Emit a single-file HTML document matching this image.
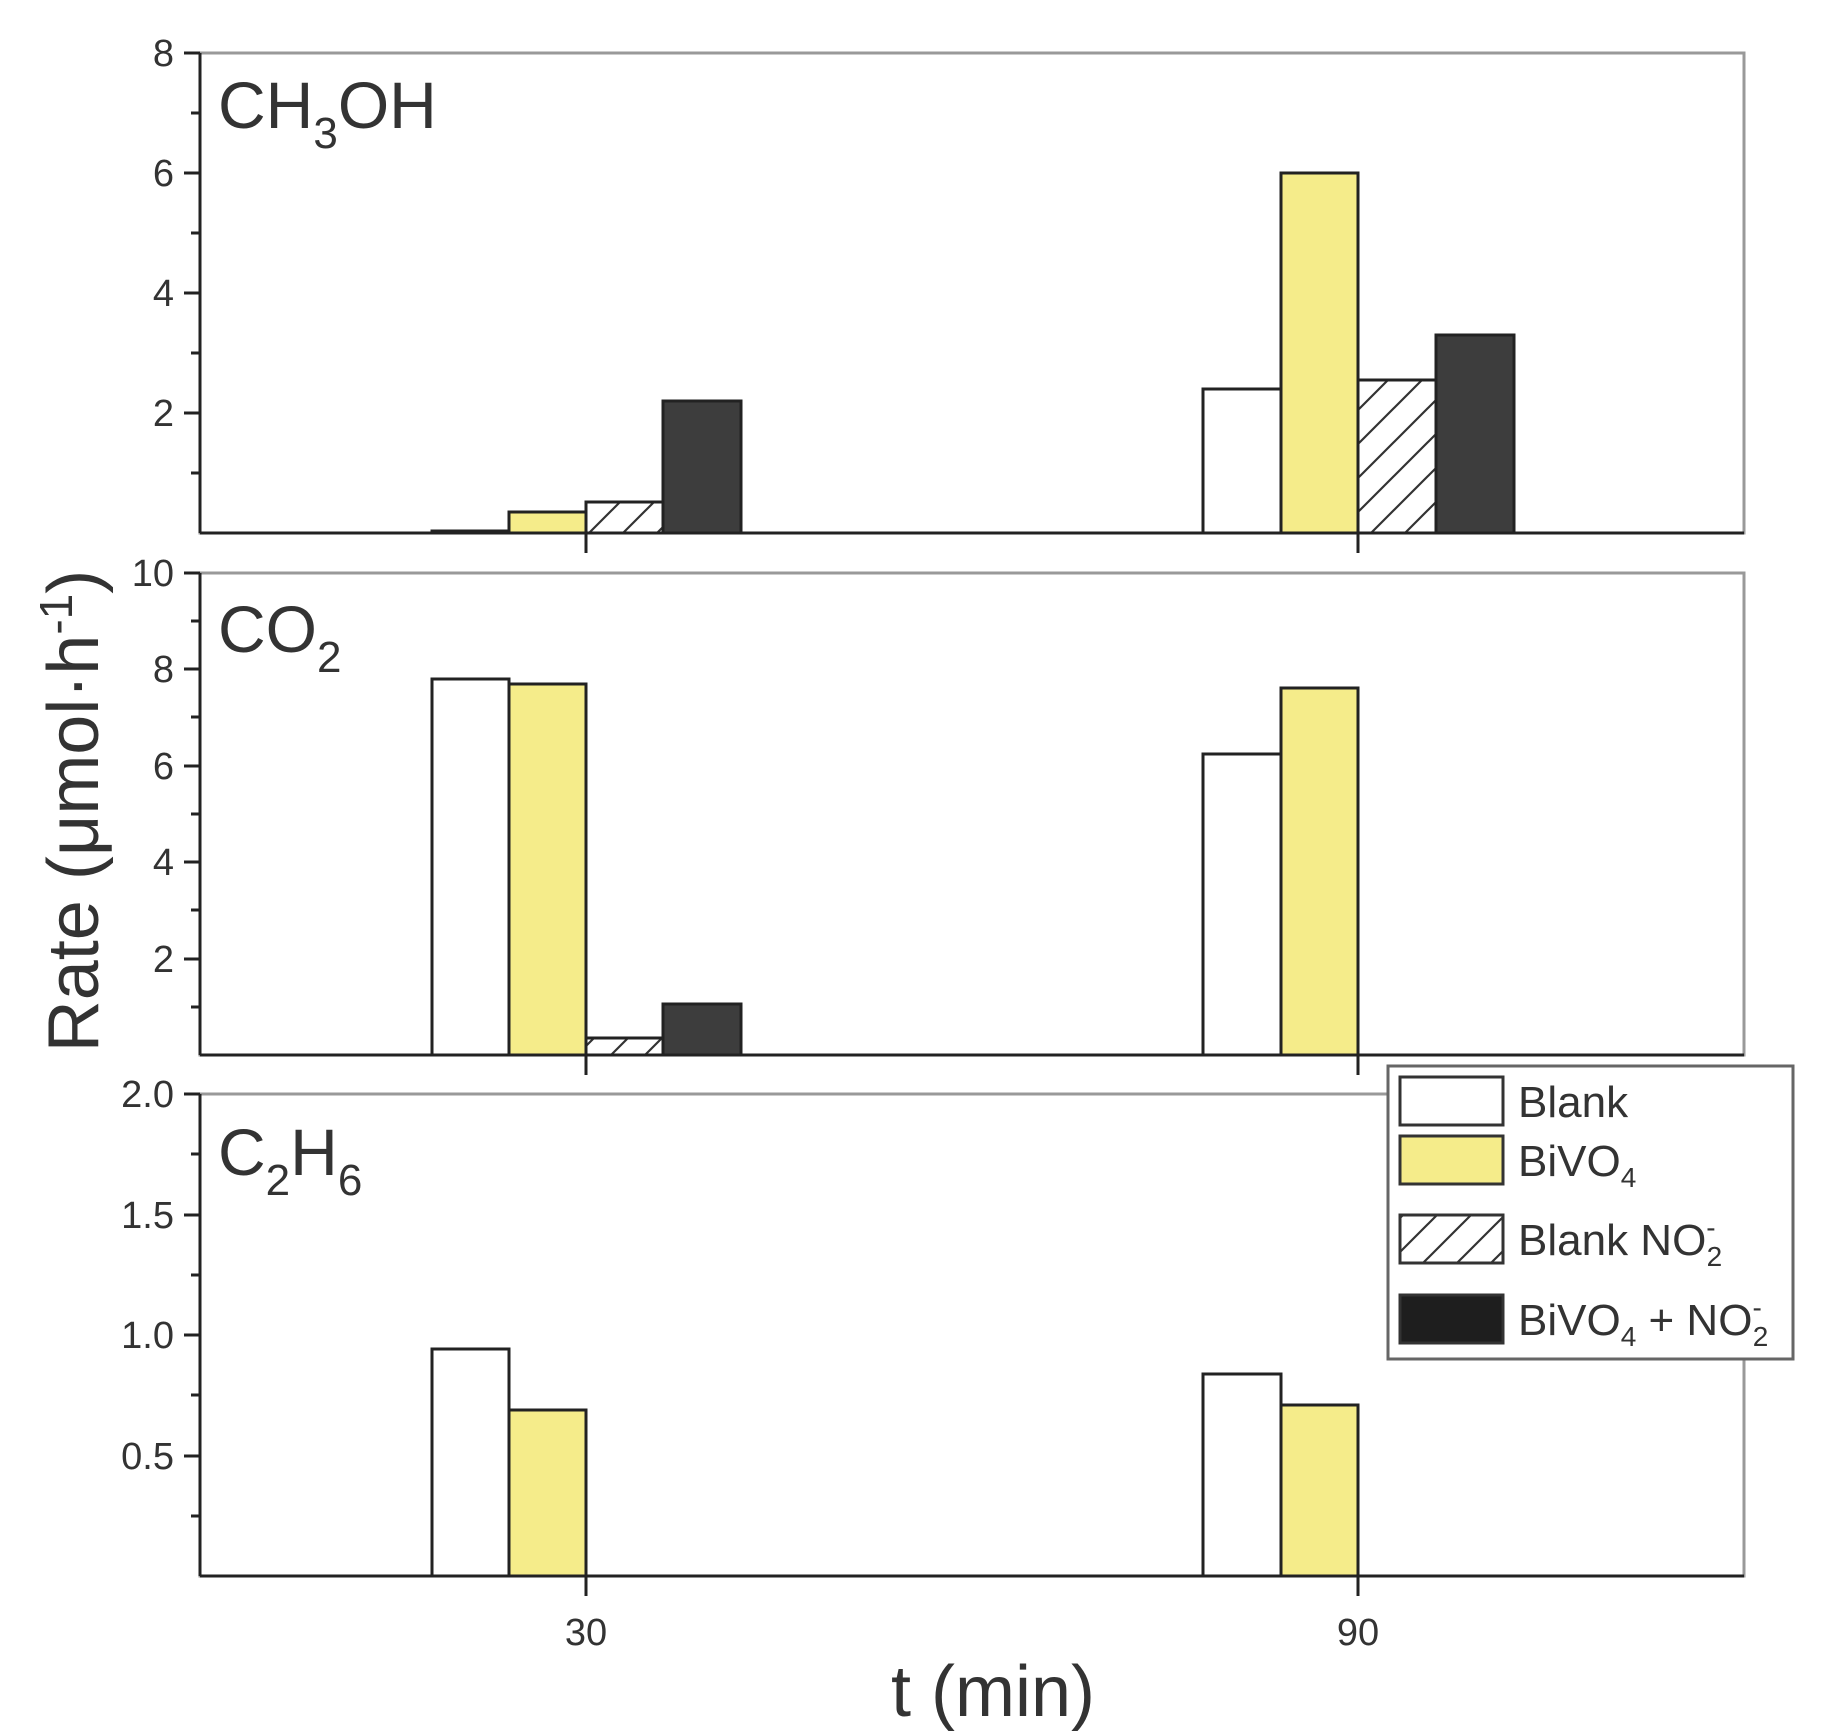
<!DOCTYPE html>
<html><head><meta charset="utf-8"><style>html,body{margin:0;padding:0;background:#fff}svg{display:block}</style></head>
<body>
<svg width="1837" height="1736" viewBox="0 0 1837 1736" xmlns="http://www.w3.org/2000/svg" font-family="Liberation Sans, Arial, sans-serif">
<defs>
<pattern id="h" patternUnits="userSpaceOnUse" width="34" height="34">
<rect width="34" height="34" fill="#fff"/>
<path d="M0 34 L34 0 M-8 8 L8 -8 M26 42 L42 26" stroke="#333" stroke-width="2.2"/>
</pattern>
</defs>
<g stroke="#222" stroke-width="3">
<rect x="200" y="53" width="1544" height="480" fill="none" stroke="#999" stroke-width="3"/>
<line x1="200" y1="53" x2="200" y2="533"/><line x1="200" y1="533" x2="1744" y2="533"/>
<rect x="200" y="573" width="1544" height="482" fill="none" stroke="#999" stroke-width="3"/>
<line x1="200" y1="573" x2="200" y2="1055"/><line x1="200" y1="1055" x2="1744" y2="1055"/>
<rect x="200" y="1094" width="1544" height="482" fill="none" stroke="#999" stroke-width="3"/>
<line x1="200" y1="1094" x2="200" y2="1576"/><line x1="200" y1="1576" x2="1744" y2="1576"/>
</g>
<g stroke="#222" stroke-width="3">
<rect x="432" y="531" width="77" height="2" fill="#fff"/>
<rect x="509" y="512" width="77" height="21" fill="#f5ec8a"/>
<rect x="586" y="502" width="77" height="31" fill="url(#h)"/>
<rect x="663" y="401" width="78" height="132" fill="#3d3d3d"/>
<rect x="1203" y="389" width="78" height="144" fill="#fff"/>
<rect x="1281" y="173" width="77" height="360" fill="#f5ec8a"/>
<rect x="1358" y="380" width="78" height="153" fill="url(#h)"/>
<rect x="1436" y="335" width="78" height="198" fill="#3d3d3d"/>
</g>
<g stroke="#222" stroke-width="3">
<rect x="432" y="679" width="77" height="376" fill="#fff"/>
<rect x="509" y="684" width="77" height="371" fill="#f5ec8a"/>
<rect x="586" y="1038" width="77" height="17" fill="url(#h)"/>
<rect x="663" y="1004" width="78" height="51" fill="#3d3d3d"/>
<rect x="1203" y="754" width="78" height="301" fill="#fff"/>
<rect x="1281" y="688" width="77" height="367" fill="#f5ec8a"/>
</g>
<g stroke="#222" stroke-width="3">
<rect x="432" y="1349" width="77" height="227" fill="#fff"/>
<rect x="509" y="1410" width="77" height="166" fill="#f5ec8a"/>
<rect x="1203" y="1374" width="78" height="202" fill="#fff"/>
<rect x="1281" y="1405" width="77" height="171" fill="#f5ec8a"/>
</g>
<g stroke="#222" stroke-width="3">
<line x1="184" y1="53" x2="200" y2="53"/><line x1="184" y1="173" x2="200" y2="173"/><line x1="184" y1="293" x2="200" y2="293"/><line x1="184" y1="413" x2="200" y2="413"/>
<line x1="191" y1="113" x2="200" y2="113"/><line x1="191" y1="233" x2="200" y2="233"/><line x1="191" y1="353" x2="200" y2="353"/><line x1="191" y1="473" x2="200" y2="473"/>
<line x1="184" y1="573" x2="200" y2="573"/><line x1="184" y1="669" x2="200" y2="669"/><line x1="184" y1="766" x2="200" y2="766"/><line x1="184" y1="862" x2="200" y2="862"/><line x1="184" y1="959" x2="200" y2="959"/>
<line x1="191" y1="621" x2="200" y2="621"/><line x1="191" y1="717" x2="200" y2="717"/><line x1="191" y1="814" x2="200" y2="814"/><line x1="191" y1="910" x2="200" y2="910"/><line x1="191" y1="1007" x2="200" y2="1007"/>
<line x1="184" y1="1094" x2="200" y2="1094"/><line x1="184" y1="1215" x2="200" y2="1215"/><line x1="184" y1="1335" x2="200" y2="1335"/><line x1="184" y1="1456" x2="200" y2="1456"/>
<line x1="191" y1="1154" x2="200" y2="1154"/><line x1="191" y1="1275" x2="200" y2="1275"/><line x1="191" y1="1395" x2="200" y2="1395"/><line x1="191" y1="1516" x2="200" y2="1516"/>
<line x1="586" y1="533" x2="586" y2="553"/><line x1="1358" y1="533" x2="1358" y2="553"/>
<line x1="586" y1="1055" x2="586" y2="1075"/><line x1="1358" y1="1055" x2="1358" y2="1075"/>
<line x1="586" y1="1576" x2="586" y2="1596"/><line x1="1358" y1="1576" x2="1358" y2="1596"/>
</g>
<g fill="#333" font-size="38" text-anchor="end">
<text x="174" y="66">8</text><text x="174" y="186">6</text><text x="174" y="306">4</text><text x="174" y="426">2</text>
<text x="174" y="586">10</text><text x="174" y="682">8</text><text x="174" y="779">6</text><text x="174" y="875">4</text><text x="174" y="972">2</text>
<text x="174" y="1107">2.0</text><text x="174" y="1228">1.5</text><text x="174" y="1348">1.0</text><text x="174" y="1469">0.5</text>
</g>
<g fill="#333" font-size="38" text-anchor="middle">
<text x="586" y="1645">30</text><text x="1358" y="1645">90</text>
</g>
<g fill="#333" font-size="66">
<text x="218" y="128">CH<tspan font-size="44" dy="20">3</tspan><tspan dy="-20">OH</tspan></text>
<text x="218" y="652">CO<tspan font-size="44" dy="20">2</tspan></text>
<text x="218" y="1175">C<tspan font-size="44" dy="20">2</tspan><tspan dy="-20">H</tspan><tspan font-size="44" dy="20">6</tspan></text>
</g>
<g fill="#333" font-size="72">
<text x="993" y="1716" text-anchor="middle">t (min)</text>
<text transform="translate(98,811) rotate(-90)" text-anchor="middle">Rate (μmol·h<tspan font-size="46" dy="-26">-1</tspan><tspan dy="26">)</tspan></text>
</g>
<rect x="1388" y="1066" width="405" height="293" fill="#fff" stroke="#666" stroke-width="3"/>
<g stroke="#333" stroke-width="3">
<rect x="1400" y="1077" width="103" height="48" fill="#fff"/>
<rect x="1400" y="1136" width="103" height="48" fill="#f5ec8a"/>
<rect x="1400" y="1215" width="103" height="48" fill="url(#h)"/>
<rect x="1400" y="1295" width="103" height="48" fill="#1e1e1e"/>
</g>
<g fill="#333" font-size="44">
<text x="1518" y="1117">Blank</text>
<text x="1518" y="1176">BiVO<tspan font-size="28" dy="11">4</tspan></text>
<text x="1518" y="1255">Blank NO<tspan font-size="28" dy="-18">-</tspan><tspan font-size="28" dx="-9" dy="29">2</tspan></text>
<text x="1518" y="1335">BiVO<tspan font-size="28" dy="11">4</tspan><tspan dy="-11"> + NO</tspan><tspan font-size="28" dy="-18">-</tspan><tspan font-size="28" dx="-9" dy="29">2</tspan></text>
</g>
</svg>
</body></html>
